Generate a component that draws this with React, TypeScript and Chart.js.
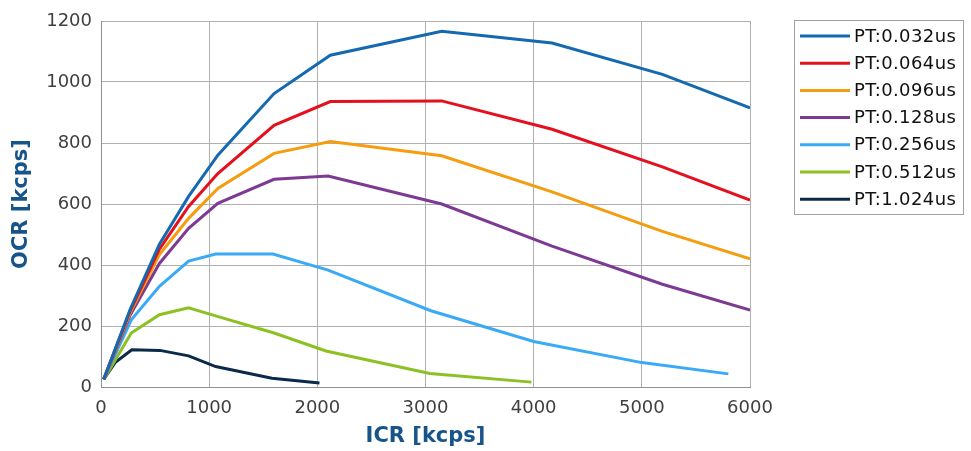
import React, { useEffect, useRef } from "react";
import { Chart, registerables } from "chart.js";

Chart.register(...registerables);

// Output count rate vs input count rate for each peaking time
const seriesLabels = [
  "PT:0.032us",
  "PT:0.064us",
  "PT:0.096us",
  "PT:0.128us",
  "PT:0.256us",
  "PT:0.512us",
  "PT:1.024us",
];

const seriesColors = [
  "#1469b0",
  "#e4101e",
  "#f59c0f",
  "#7c3a93",
  "#3aaaf6",
  "#8cc023",
  "#0b2a49",
];

const pt032Icr = [25, 270, 540, 810, 1080, 1600, 2120, 3150, 4170, 5190, 6000];
const pt032Ocr = [25, 255, 468, 625, 760, 962, 1088, 1166, 1128, 1025, 915];

const pt064Icr = [25, 270, 540, 810, 1080, 1600, 2120, 3150, 4170, 5190, 6000];
const pt064Ocr = [25, 250, 452, 592, 700, 858, 936, 938, 845, 722, 613];

const pt096Icr = [25, 270, 540, 810, 1080, 1600, 2120, 3150, 4170, 5190, 6000];
const pt096Ocr = [25, 244, 434, 553, 651, 766, 805, 758, 640, 510, 420];

const pt128Icr = [25, 270, 540, 810, 1080, 1600, 2100, 3150, 4170, 5190, 6000];
const pt128Ocr = [25, 236, 405, 520, 602, 681, 692, 600, 462, 337, 252];

const pt256Icr = [25, 280, 540, 810, 1060, 1590, 2100, 3050, 4000, 5000, 5800];
const pt256Ocr = [25, 220, 330, 413, 436, 436, 383, 250, 149, 80, 43];

const pt512Icr = [25, 280, 540, 810, 1060, 1600, 2080, 3040, 3980];
const pt512Ocr = [25, 177, 237, 260, 233, 177, 118, 44, 16];

const pt1024Icr = [25, 130, 285, 545, 810, 1060, 1580, 2020];
const pt1024Ocr = [25, 80, 122, 120, 102, 67, 29, 13];

const icrSeries = [pt032Icr, pt064Icr, pt096Icr, pt128Icr, pt256Icr, pt512Icr, pt1024Icr];
const ocrSeries = [pt032Ocr, pt064Ocr, pt096Ocr, pt128Ocr, pt256Ocr, pt512Ocr, pt1024Ocr];

const xTicks = [0, 1000, 2000, 3000, 4000, 5000, 6000];
const yTicks = [0, 200, 400, 600, 800, 1000, 1200];

const FONT = "'DejaVu Sans', sans-serif";
const TITLE_COLOR = "#17548a";
const TICK_COLOR = "#404040";
const GRID_COLOR = "#b0b0b0";

// Boxed legend drawn to the right of the plot
const boxedLegend = {
  id: "boxedLegend",
  afterDraw(chart: any) {
    const ctx = chart.ctx;
    const area = chart.chartArea;
    const left = area.right + 44;
    const top = 20;
    const width = 169;
    const rowH = 27.2;
    const firstRow = 36;
    const n = chart.data.datasets.length;
    const height = 194;
    ctx.save();
    ctx.strokeStyle = "#a0a0a0";
    ctx.lineWidth = 1;
    ctx.strokeRect(left + 0.5, top + 0.5, width, height);
    ctx.font = `18px ${FONT}`;
    ctx.textBaseline = "middle";
    ctx.textAlign = "left";
    (ctx as any).letterSpacing = "0.4px";
    for (let i = 0; i < n; i++) {
      const ds = chart.data.datasets[i];
      const y = firstRow + i * rowH;
      ctx.strokeStyle = ds.borderColor;
      ctx.lineWidth = 3;
      ctx.beginPath();
      ctx.moveTo(left + 6, y);
      ctx.lineTo(left + 56, y);
      ctx.stroke();
      ctx.fillStyle = "#111111";
      ctx.fillText(ds.label, left + 60, y + 1);
    }
    ctx.restore();
  },
};

export default function App() {
  const canvasRef = useRef<HTMLCanvasElement | null>(null);

  useEffect(() => {
    const prevMargin = document.body.style.margin;
    document.body.style.margin = "0";
    const canvas = canvasRef.current;
    if (!canvas) return;

    const datasets = seriesLabels.map((label, i) => ({
      label,
      data: icrSeries[i].map((x, j) => ({ x, y: ocrSeries[i][j] })),
      borderColor: seriesColors[i],
      backgroundColor: seriesColors[i],
      borderWidth: 3,
      pointRadius: 0,
      tension: 0,
      fill: false,
    }));

    const plainNumber = (v: any) => String(v);

    const chart = new Chart(canvas, {
      type: "line",
      data: { datasets },
      plugins: [boxedLegend],
      options: {
        animation: false,
        responsive: false,
        maintainAspectRatio: false,
        layout: { padding: { left: 0, right: 221, top: 21, bottom: 0 } },
        plugins: {
          legend: { display: false },
          tooltip: { enabled: false },
        },
        scales: {
          x: {
            type: "linear",
            min: 0,
            max: 6000,
            afterFit: (scale: any) => {
              scale.height = 64;
            },
            afterBuildTicks: (scale: any) => {
              scale.ticks = xTicks.map((v) => ({ value: v }));
            },
            grid: { color: GRID_COLOR, lineWidth: 1, drawTicks: false },
            border: { color: "#909090", width: 1 },
            ticks: {
              color: TICK_COLOR,
              font: { family: FONT, size: 18 },
              padding: 11,
              maxRotation: 0,
              callback: plainNumber,
            },
            title: {
              display: true,
              text: "ICR [kcps]",
              color: TITLE_COLOR,
              font: { family: FONT, size: 21, weight: "bold" },
              padding: { top: 0, bottom: 2 },
            },
          },
          y: {
            type: "linear",
            min: 0,
            max: 1200,
            afterFit: (scale: any) => {
              scale.width = 101;
            },
            afterBuildTicks: (scale: any) => {
              scale.ticks = yTicks.map((v) => ({ value: v }));
            },
            grid: { color: GRID_COLOR, lineWidth: 1, drawTicks: false },
            border: { color: "#909090", width: 1 },
            ticks: {
              color: TICK_COLOR,
              font: { family: FONT, size: 18 },
              padding: 9,
              callback: plainNumber,
            },
            title: {
              display: true,
              text: "OCR [kcps]",
              color: TITLE_COLOR,
              font: { family: FONT, size: 21, weight: "bold" },
              padding: { top: 9, bottom: 0 },
            },
          },
        },
      },
    });

    return () => {
      chart.destroy();
      document.body.style.margin = prevMargin;
    };
  }, []);

  return (
    <div style={{ position: "fixed", left: 0, top: 0, width: 971, height: 451, background: "#ffffff" }}>
      <canvas ref={canvasRef} width={971} height={451} style={{ width: 971, height: 451 }} />
    </div>
  );
}
